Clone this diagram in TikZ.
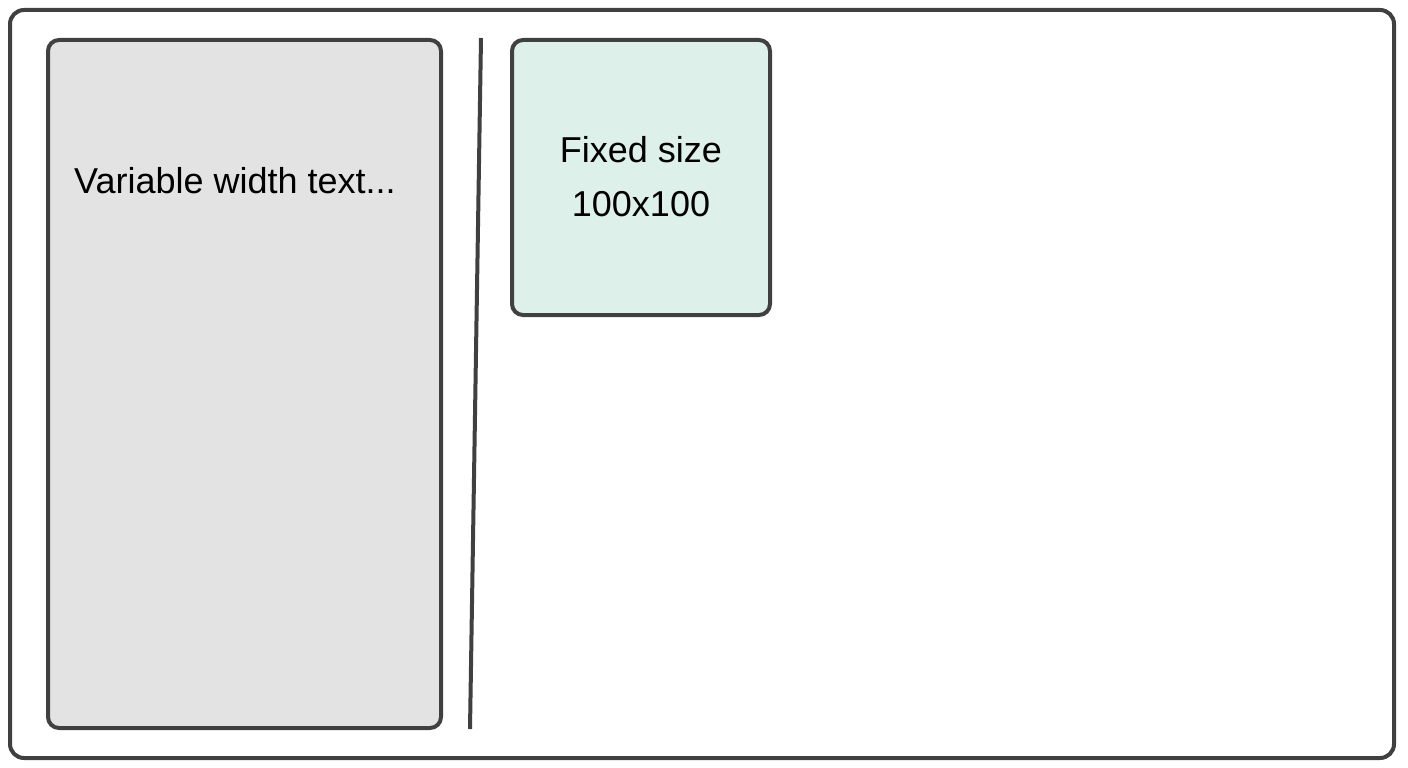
\documentclass[tikz,border=0pt]{standalone}
\usepackage{fontspec}
\setmainfont{Liberation Sans}
\definecolor{strk}{HTML}{404040}
\definecolor{greyfill}{HTML}{E3E3E3}
\definecolor{greenfill}{HTML}{DEF0EA}
\begin{document}
\begin{tikzpicture}[x=1pt,y=-1pt,
  frame/.style={draw=strk,line width=4pt,rounded corners=14pt},
  panel/.style={draw=strk,line width=4pt,rounded corners=11pt},
  lbl/.style={font=\fontsize{36}{54}\selectfont,text=black,inner sep=0pt}]
\useasboundingbox (0,0) rectangle (1408,768);
\fill[white] (0,0) rectangle (1408,768);
\draw[frame] (10,10) rectangle (1394,758);
\draw[panel,fill=greyfill] (48,40) rectangle (441,728);
\coordinate (divtop) at (481,38);
\coordinate (divbot) at (470,729);
\draw[strk,line width=4pt] (divtop) -- (divbot);
\draw[panel,fill=greenfill] (512,40) rectangle (770,315);
\node[lbl,anchor=west] (vtext) at (74,181) {Variable width text...};
\node[lbl,align=center] (ftext) at (641,177) {Fixed size\\100x100};
\end{tikzpicture}
\end{document}
